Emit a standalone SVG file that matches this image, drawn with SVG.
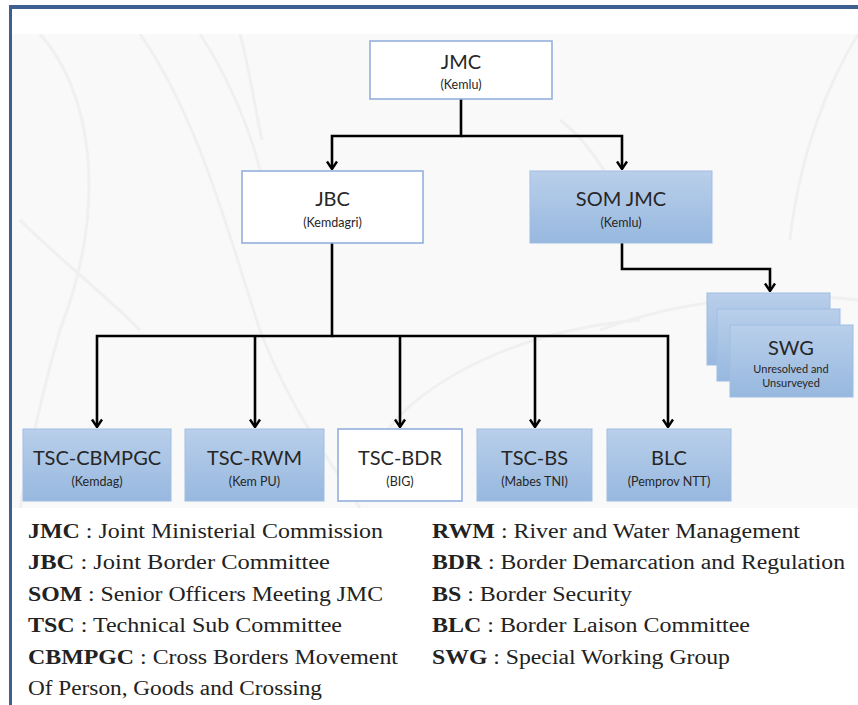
<svg xmlns="http://www.w3.org/2000/svg" width="858" height="705" viewBox="0 0 858 705">
<style>
.box-w{fill:#ffffff;stroke:#8eaadb;stroke-width:1.5}
.box-b{fill:url(#gb);stroke:#9fbde3;stroke-width:1}
.t{font-family:Lato,"Liberation Sans",sans-serif;fill:#262626;text-anchor:middle}
.ttl{font-size:20px}
.sub{font-size:12.5px}
.conn{fill:none;stroke:#000;stroke-width:2.6}
.lg{font-size:20px;fill:#222}
.b{font-weight:bold}
.contour{fill:none;stroke:#f0f0f0;stroke-width:3}
</style>
<defs>
<linearGradient id="gb" x1="0" y1="0" x2="0" y2="1">
<stop offset="0" stop-color="#b9cfea"/>
<stop offset="1" stop-color="#97b8df"/>
</linearGradient>
<marker id="ah" viewBox="0 0 10 12" refX="9" refY="6" markerWidth="10" markerHeight="12" markerUnits="userSpaceOnUse" orient="auto">
<path d="M1.5,1 L9,6 L1.5,11" fill="none" stroke="#000" stroke-width="2.4"/>
</marker>
<clipPath id="bgclip"><rect x="12" y="34" width="846" height="474"/></clipPath>
</defs>
<rect x="0" y="0" width="858" height="705" fill="#ffffff"/>
<rect x="12" y="34" width="846" height="474" fill="#f9f9f9"/>
<g clip-path="url(#bgclip)">
<path class="contour" d="M40,34 C90,90 110,200 60,330 C40,400 30,450 20,508"/>
<path class="contour" d="M140,34 C200,120 230,240 260,330 C290,410 330,460 360,508"/>
<path class="contour" d="M200,34 C230,80 250,130 260,170"/>
<path class="contour" d="M240,34 C250,70 255,110 262,140"/>
<path class="contour" d="M560,120 C600,150 620,200 640,240"/>
<path class="contour" d="M858,34 C830,80 800,150 790,240"/>
<path class="contour" d="M600,330 C680,300 780,290 858,300"/>
<path class="contour" d="M380,440 C420,380 520,330 640,320"/>
<path class="contour" d="M20,220 C60,260 100,290 140,330"/>
</g>
<rect x="9" y="5" width="849" height="4" fill="#3d6090"/>
<rect x="9" y="5" width="3" height="700" fill="#3d6090"/>

<g id="connectors">
<path class="conn" d="M461,99 V136 H332 V169" marker-end="url(#ah)"/>
<path class="conn" d="M461,136 H622 V169" marker-end="url(#ah)"/>
<path class="conn" d="M622,243 V269 H770 V291" marker-end="url(#ah)"/>
<path class="conn" d="M332,243 V336 H97 V427" marker-end="url(#ah)"/>
<path class="conn" d="M255,336 V427" marker-end="url(#ah)"/>
<path class="conn" d="M332,336 H668 V427" marker-end="url(#ah)"/>
<path class="conn" d="M400,336 V427" marker-end="url(#ah)"/>
<path class="conn" d="M535,336 V427" marker-end="url(#ah)"/>
</g>

<g id="jmc">
<rect class="box-w" x="370" y="41" width="182" height="58"/>
<text class="t ttl" x="461" y="69">JMC</text>
<text class="t sub" x="461" y="89">(Kemlu)</text>
</g>
<g id="jbc">
<rect class="box-w" x="242" y="171" width="181" height="72"/>
<text class="t ttl" x="332.5" y="206">JBC</text>
<text class="t sub" x="332.5" y="227">(Kemdagri)</text>
</g>
<g id="som-jmc">
<rect class="box-b" x="530" y="171" width="182" height="72"/>
<text class="t ttl" x="621" y="206">SOM JMC</text>
<text class="t sub" x="621" y="227">(Kemlu)</text>
</g>
<g id="swg">
<rect class="box-b" x="707" y="293" width="123" height="72"/>
<rect class="box-b" x="717" y="309" width="123" height="72"/>
<rect class="box-b" x="730" y="325" width="123" height="72"/>
<text class="t ttl" x="791" y="355">SWG</text>
<text class="t" x="791" y="373" font-size="11">Unresolved and</text>
<text class="t" x="791" y="387" font-size="11">Unsurveyed</text>
</g>
<g id="tsc-cbmpgc">
<rect class="box-b" x="23" y="429" width="148" height="72"/>
<text class="t ttl" x="97" y="465">TSC-CBMPGC</text>
<text class="t sub" x="97" y="486">(Kemdag)</text>
</g>
<g id="tsc-rwm">
<rect class="box-b" x="185" y="429" width="139" height="72"/>
<text class="t ttl" x="254.5" y="465">TSC-RWM</text>
<text class="t sub" x="254.5" y="486">(Kem PU)</text>
</g>
<g id="tsc-bdr">
<rect class="box-w" x="338" y="429" width="124" height="72"/>
<text class="t ttl" x="400" y="465">TSC-BDR</text>
<text class="t sub" x="400" y="486">(BIG)</text>
</g>
<g id="tsc-bs">
<rect class="box-b" x="477" y="429" width="115" height="72"/>
<text class="t ttl" x="534.5" y="465">TSC-BS</text>
<text class="t sub" x="534.5" y="486">(Mabes TNI)</text>
</g>
<g id="blc">
<rect class="box-b" x="607" y="429" width="124" height="72"/>
<text class="t ttl" x="669" y="465">BLC</text>
<text class="t sub" x="669" y="486">(Pemprov NTT)</text>
</g>

<g id="legend" font-family="'Liberation Serif', 'DejaVu Serif', serif">
<text class="lg" x="28" y="538" textLength="355" lengthAdjust="spacingAndGlyphs"><tspan class="b">JMC</tspan> : Joint Ministerial Commission</text>
<text class="lg" x="28" y="569" textLength="302" lengthAdjust="spacingAndGlyphs"><tspan class="b">JBC</tspan> :  Joint Border Committee</text>
<text class="lg" x="28" y="601" textLength="355" lengthAdjust="spacingAndGlyphs"><tspan class="b">SOM</tspan> : Senior Officers Meeting JMC</text>
<text class="lg" x="28" y="632" textLength="314" lengthAdjust="spacingAndGlyphs"><tspan class="b">TSC</tspan>  : Technical Sub Committee</text>
<text class="lg" x="28" y="664" textLength="370" lengthAdjust="spacingAndGlyphs"><tspan class="b">CBMPGC</tspan> : Cross Borders Movement</text>
<text class="lg" x="28" y="695" textLength="294" lengthAdjust="spacingAndGlyphs">Of Person, Goods and Crossing</text>
<text class="lg" x="432" y="538" textLength="368" lengthAdjust="spacingAndGlyphs"><tspan class="b">RWM</tspan> : River and Water Management</text>
<text class="lg" x="432" y="569" textLength="413" lengthAdjust="spacingAndGlyphs"><tspan class="b">BDR</tspan> : Border Demarcation and Regulation</text>
<text class="lg" x="432" y="601" textLength="200" lengthAdjust="spacingAndGlyphs"><tspan class="b">BS</tspan> : Border Security</text>
<text class="lg" x="432" y="632" textLength="318" lengthAdjust="spacingAndGlyphs"><tspan class="b">BLC</tspan> : Border Laison Committee</text>
<text class="lg" x="432" y="664" textLength="298" lengthAdjust="spacingAndGlyphs"><tspan class="b">SWG</tspan> : Special Working Group</text>
</g>
</svg>
